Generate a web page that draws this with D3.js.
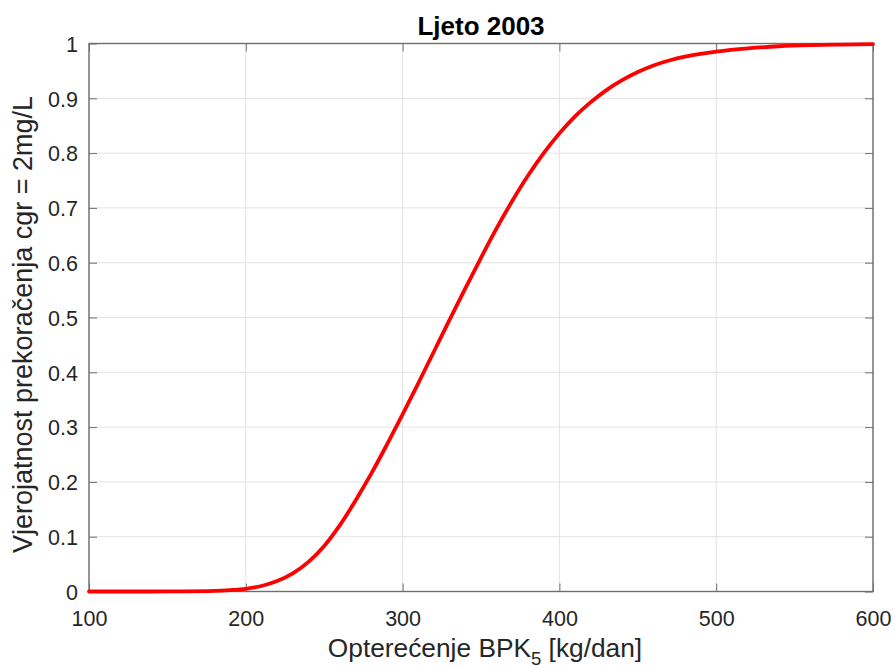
<!DOCTYPE html>
<html>
<head>
<meta charset="utf-8">
<script src="https://cdn.jsdelivr.net/npm/d3@7"></script>
<style>
  body { margin: 0; background: #fff; }
  text { font-family: "Liberation Sans", Arial, sans-serif; fill: #262626; }
</style>
</head>
<body>
<script>
  // values
  var loadKg = [100, 120, 140, 160, 180, 190, 200, 210, 220, 230, 240, 250, 260, 270, 280, 290,
    300, 310, 320, 330, 340, 350, 360, 370, 380, 390, 400, 410, 420, 430, 440, 450,
    460, 470, 480, 490, 500, 520, 540, 560, 580, 600];
  var probability = [0, 0, 0, 0.0002, 0.001, 0.0025, 0.005, 0.01, 0.019, 0.033, 0.054, 0.083, 0.121, 0.166, 0.215, 0.268,
    0.323, 0.38, 0.438, 0.496, 0.553, 0.609, 0.663, 0.713, 0.759, 0.8, 0.836, 0.867, 0.893, 0.915, 0.933, 0.948,
    0.96, 0.969, 0.976, 0.981, 0.985, 0.991, 0.995, 0.997, 0.998, 0.999];
  var xTicks = [100, 200, 300, 400, 500, 600];
  var yTicks = [0, 0.1, 0.2, 0.3, 0.4, 0.5, 0.6, 0.7, 0.8, 0.9, 1];

  var data = loadKg.map(function(d, i) { return { x: d, y: probability[i] }; });

  var W = 895, H = 668;
  var margin = { top: 43.5, right: 22, bottom: 76.5, left: 89 };
  var width = W - margin.left - margin.right,
    height = H - margin.top - margin.bottom;

  var svg = d3.select("body").append("svg")
    .attr("width", W)
    .attr("height", H);

  var g = svg.append("g")
    .attr("transform", "translate(" + margin.left + "," + margin.top + ")");

  var x = d3.scaleLinear().domain([100, 600]).range([0, width]);
  var y = d3.scaleLinear().domain([0, 1]).range([height, 0]);

  // grid
  g.append("g").selectAll("line.gx")
    .data(xTicks)
    .enter().append("line")
    .attr("x1", function(d) { return x(d); })
    .attr("x2", function(d) { return x(d); })
    .attr("y1", 0).attr("y2", height)
    .attr("stroke", "#e3e3e3").attr("stroke-width", 1);

  g.append("g").selectAll("line.gy")
    .data(yTicks)
    .enter().append("line")
    .attr("y1", function(d) { return y(d); })
    .attr("y2", function(d) { return y(d); })
    .attr("x1", 0).attr("x2", width)
    .attr("stroke", "#e3e3e3").attr("stroke-width", 1);

  // axes (ticks point inward)
  var tl = 8;
  var xAxis = d3.axisBottom(x).tickValues(xTicks).tickSize(-tl).tickPadding(19);
  var yAxis = d3.axisLeft(y).tickValues(yTicks).tickSize(-tl).tickPadding(11)
    .tickFormat(function(d) { return d3.format("")(+d.toFixed(1)); });

  var gx = g.append("g")
    .attr("transform", "translate(0," + height + ")")
    .call(xAxis);
  var gy = g.append("g").call(yAxis);

  // top and right box ticks
  g.append("g").call(d3.axisTop(x).tickValues(xTicks).tickSize(-tl).tickFormat(""));
  g.append("g").attr("transform", "translate(" + width + ",0)")
    .call(d3.axisRight(y).tickValues(yTicks).tickSize(-tl).tickFormat(""));

  g.selectAll(".domain").remove();
  g.selectAll(".tick line").attr("stroke", "#6e6e6e").attr("stroke-width", 1);
  gx.selectAll("text").style("font-size", "21.5px").attr("fill", "#262626");
  gy.selectAll("text").style("font-size", "21.5px").attr("fill", "#262626").attr("dy", "0.36em");

  g.append("rect")
    .attr("width", width).attr("height", height)
    .attr("fill", "none")
    .attr("stroke", "#6e6e6e").attr("stroke-width", 1.4);

  // curve
  var line = d3.line()
    .x(function(d) { return x(d.x); })
    .y(function(d) { return y(d.y); })
    .curve(d3.curveMonotoneX);

  g.append("path")
    .datum(data)
    .attr("d", line)
    .attr("fill", "none")
    .attr("stroke", "#ff0000")
    .attr("stroke-width", 3.8)
    .attr("stroke-linejoin", "round")
    .attr("stroke-linecap", "round");

  // title
  svg.append("text")
    .attr("x", margin.left + width / 2)
    .attr("y", 35)
    .attr("text-anchor", "middle")
    .style("font-size", "26px")
    .style("font-weight", "bold")
    .style("fill", "#000")
    .text("Ljeto 2003");

  // x label
  var xl = svg.append("text")
    .attr("x", margin.left + width / 2 + 4)
    .attr("y", 657)
    .attr("text-anchor", "middle")
    .style("font-size", "26.3px");
  xl.append("tspan").text("Opterećenje BPK");
  xl.append("tspan").attr("dy", 8).style("font-size", "18.5px").text("5");
  xl.append("tspan").attr("dy", -8).text(" [kg/dan]");

  // y label
  svg.append("text")
    .attr("transform", "translate(32," + (margin.top + height / 2 + 7) + ") rotate(-90)")
    .attr("text-anchor", "middle")
    .style("font-size", "27px")
    .text("Vjerojatnost prekoračenja cgr = 2mg/L");
</script>
</body>
</html>
